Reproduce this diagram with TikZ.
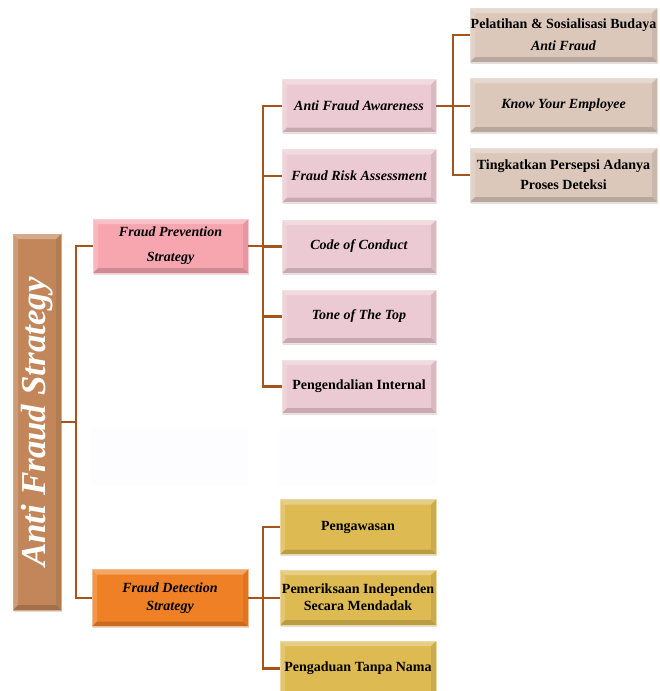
\documentclass[tikz,border=0pt]{standalone}
\usepackage{fontspec}
\setmainfont{Liberation Serif}
\usetikzlibrary{shadows}
\definecolor{conn}{RGB}{165,84,28}
\definecolor{rootc}{RGB}{194,134,90}
\definecolor{pinkc}{RGB}{236,202,211}
\definecolor{fpsc}{RGB}{247,166,176}
\definecolor{tanc}{RGB}{219,200,186}
\definecolor{yelc}{RGB}{222,186,82}
\definecolor{orac}{RGB}{240,128,38}
\definecolor{faintc}{RGB}{253,252,254}
\tikzset{
  bevel/.style={path picture={
    \path (path picture bounding box.north west) coordinate (pNW)
          (path picture bounding box.south east) coordinate (pSE);
    \fill[white,opacity=.30] (pNW) -- (pSE |- pNW) -- ([xshift=-5pt,yshift=-5pt]pSE |- pNW) -- ([xshift=5pt,yshift=-5pt]pNW) -- cycle;
    \fill[white,opacity=.18] (pNW) -- ([xshift=5pt,yshift=-5pt]pNW) -- ([xshift=5pt,yshift=5pt]pNW |- pSE) -- (pNW |- pSE) -- cycle;
    \fill[black,opacity=.16] (pNW |- pSE) -- (pSE) -- ([xshift=-5pt,yshift=5pt]pSE) -- ([xshift=5pt,yshift=5pt]pNW |- pSE) -- cycle;
    \fill[black,opacity=.08] (pSE |- pNW) -- (pSE) -- ([xshift=-5pt,yshift=5pt]pSE) -- ([xshift=-5pt,yshift=-5pt]pSE |- pNW) -- cycle;
  }},
  box/.style={rectangle, inner sep=0pt, align=center, bevel,
    font=\fontsize{14}{17}\selectfont\bfseries,
    drop shadow={shadow xshift=0.8pt,shadow yshift=-1.5pt,opacity=.25}},
  it/.style={font=\fontsize{14}{17}\selectfont\bfseries\itshape},
  rootbox/.style={box, fill=rootc, draw=rootc!70!white, line width=0.8pt,
    minimum width=48pt, minimum height=376pt, text=white},
  fpsbox/.style={box, fill=fpsc, draw=fpsc!60!white, line width=0.8pt,
    minimum width=155pt, minimum height=54pt},
  pinkbox/.style={box, fill=pinkc, draw=pinkc!60!white, line width=0.8pt,
    minimum width=154pt, minimum height=53pt},
  tanbox/.style={box, fill=tanc, draw=tanc!60!white, line width=0.8pt,
    minimum width=187pt, minimum height=54pt},
  yelbox/.style={box, fill=yelc, draw=yelc!55!white, line width=0.8pt,
    minimum width=156pt, minimum height=55pt},
  orabox/.style={box, fill=orac, draw=orac!55!white, line width=0.8pt,
    minimum width=156pt, minimum height=57pt},
  faintbox/.style={rectangle, fill=faintc, inner sep=0pt},
  link/.style={draw=conn, line width=2.8pt},
}
\begin{document}
\begin{tikzpicture}[x=1pt,y=-1pt]
\useasboundingbox (0,0) rectangle (659,691);

% root
\node[rootbox] (root) at (37,422) {\rotatebox{90}{\fontsize{35}{40}\selectfont\bfseries\itshape Anti Fraud Strategy}};

% level 1
\node[fpsbox, font=\fontsize{14}{25}\selectfont\bfseries\itshape] (fps) at (170.5,246) {Fraud Prevention\\ Strategy};
\node[orabox, font=\fontsize{14}{18}\selectfont\bfseries\itshape] (fds) at (170,598) {Fraud Detection\\ Strategy};

% faint placeholders
\node[faintbox, minimum width=157pt, minimum height=58pt] (f1) at (169.5,457) {};
\node[faintbox, minimum width=158pt, minimum height=58pt] (f2) at (358,457) {};

% level 2 (prevention)
\node[pinkbox, it] (a1) at (359,106) {Anti Fraud Awareness};
\node[pinkbox, it] (a2) at (359,176) {Fraud Risk Assessment};
\node[pinkbox, it] (a3) at (359,246.5) {Code of Conduct};
\node[pinkbox, it] (a4) at (359,316.5) {Tone of The Top};
\node[pinkbox] (a5) at (359,386.5) {Pengendalian Internal};

% level 3
\node[tanbox, font=\fontsize{14}{22}\selectfont\bfseries] (c1) at (563.5,35) {Pelatihan \& Sosialisasi Budaya\\ \itshape Anti Fraud};
\node[tanbox, it] (c2) at (563.5,105) {Know Your Employee};
\node[tanbox, font=\fontsize{14}{20}\selectfont\bfseries] (c3) at (563.5,175) {Tingkatkan Persepsi Adanya\\ Proses Deteksi};

% level 2 (detection)
\node[yelbox] (d1) at (358,527) {Pengawasan};
\node[yelbox] (d2) at (358,597.5) {Pemeriksaan Independen\\ Secara Mendadak};
\node[yelbox] (d3) at (358,668.5) {Pengaduan Tanpa Nama};

% junctions
\coordinate (j1) at (76,422);
\coordinate (j2) at (263,246);
\coordinate (j3) at (453,106);
\coordinate (j4) at (263,598);

% connectors
\draw[link] (root.east |- j1) -- (j1);
\draw[link] (fps.west) -| (j1) |- (fds.west);

\draw[link] (fps.east) -- (j2);
\draw[link] (a1.west) -| (j2) |- (a5.west);
\draw[link] (j2) |- (a2.west);
\draw[link] (j2) |- (a3.west);
\draw[link] (j2) |- (a4.west);

\draw[link] (a1.east) -- (j3);
\draw[link] (c1.west) -| (j3) |- (c3.west);
\draw[link] (j3) -- (c2.west |- j3);

\draw[link] (fds.east) -- (j4);
\draw[link] (d1.west) -| (j4) |- (d3.west);
\draw[link] (j4) -- (d2.west |- j4);
\end{tikzpicture}
\end{document}
